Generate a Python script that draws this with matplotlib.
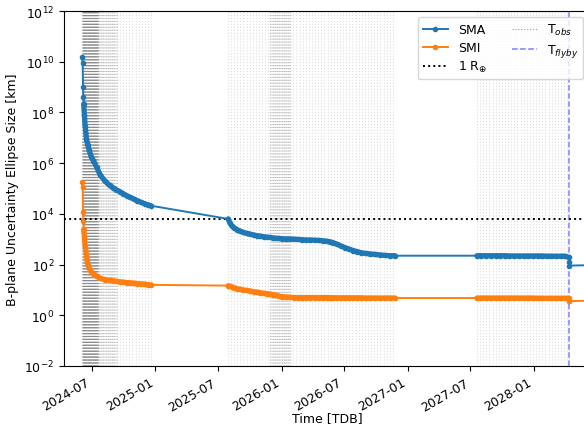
import matplotlib
matplotlib.use("Agg")
import matplotlib.pyplot as plt
import matplotlib.dates as mdates
from matplotlib.lines import Line2D
import numpy as np
import pandas as pd

plt.rcParams["font.size"] = 9

# ---- data ----
dates = [
    "2024-06-04", "2024-06-05", "2024-06-06", "2024-06-07", "2024-06-08",
    "2024-06-10", "2024-06-12", "2024-06-16", "2024-06-20", "2024-06-24",
    "2024-06-30", "2024-07-06", "2024-07-15", "2024-07-25", "2024-08-08",
    "2024-08-22", "2024-09-01", "2024-09-10", "2024-09-20", "2024-09-30",
    "2024-10-10", "2024-10-20", "2024-10-30", "2024-11-10", "2024-11-20",
    "2024-12-01", "2024-12-10", "2024-12-20",
    "2025-07-31", "2025-08-05", "2025-08-10", "2025-08-17", "2025-08-25",
    "2025-09-03", "2025-09-12", "2025-09-22", "2025-10-02", "2025-10-12",
    "2025-10-22", "2025-11-01", "2025-11-10", "2025-11-20", "2025-11-29",
    "2025-12-08", "2025-12-16", "2025-12-24", "2026-01-02", "2026-01-14",
    "2026-01-26", "2026-02-07", "2026-02-18", "2026-03-01", "2026-03-13",
    "2026-03-25", "2026-04-08", "2026-04-20", "2026-05-01", "2026-05-11",
    "2026-05-21", "2026-05-31", "2026-06-09", "2026-06-21", "2026-07-03",
    "2026-07-15", "2026-07-28", "2026-08-08", "2026-08-19", "2026-09-01",
    "2026-09-14", "2026-09-28", "2026-10-13", "2026-10-27", "2026-11-11",
    "2026-11-25",
    "2027-07-20", "2027-08-01", "2027-08-15", "2027-08-30", "2027-09-12",
    "2027-09-25", "2027-10-10", "2027-10-22", "2027-11-05", "2027-11-20",
    "2027-12-02", "2027-12-15", "2027-12-30", "2028-01-12", "2028-01-25",
    "2028-02-08", "2028-02-20", "2028-03-05", "2028-03-18", "2028-03-30",
    "2028-04-10", "2028-04-11", "2028-04-12",
    "2028-07-01",
]
log_sma = [
    10.17, 9.94, 8.99, 8.60, 8.33,
    7.90, 7.48, 6.95, 6.70, 6.50,
    6.25, 6.10, 5.85, 5.55, 5.30,
    5.12, 5.03, 4.95, 4.88, 4.80,
    4.72, 4.65, 4.59, 4.52, 4.46,
    4.40, 4.36, 4.32,
    3.80, 3.63, 3.53, 3.45, 3.38,
    3.32, 3.27, 3.23, 3.20, 3.17,
    3.14, 3.12, 3.10, 3.08, 3.07,
    3.05, 3.04, 3.03, 3.02, 3.01,
    3.01, 3.00, 2.99, 2.98, 2.97,
    2.97, 2.96, 2.95, 2.94, 2.92,
    2.90, 2.86, 2.81, 2.74, 2.67,
    2.61, 2.55, 2.51, 2.47, 2.44,
    2.42, 2.40, 2.38, 2.36, 2.35,
    2.35,
    2.35, 2.35, 2.35, 2.35, 2.35,
    2.35, 2.35, 2.34, 2.34, 2.34,
    2.34, 2.34, 2.34, 2.34, 2.34,
    2.33, 2.33, 2.33, 2.33, 2.33,
    2.29, 2.09, 1.96,
    1.98,
]
log_smi = [
    5.27, 5.07, 4.09, 3.73, 3.40,
    3.10, 2.75, 2.35, 1.98, 1.85,
    1.72, 1.63, 1.55, 1.46, 1.41,
    1.38, 1.36, 1.34, 1.32, 1.31,
    1.29, 1.28, 1.27, 1.25, 1.24,
    1.23, 1.21, 1.20,
    1.17, 1.14, 1.12, 1.09, 1.05,
    1.03, 1.00, 0.98, 0.96, 0.93,
    0.91, 0.89, 0.87, 0.85, 0.84,
    0.81, 0.79, 0.76, 0.74, 0.72,
    0.71, 0.70, 0.70, 0.70, 0.70,
    0.70, 0.70, 0.70, 0.70, 0.70,
    0.70, 0.69, 0.69, 0.69, 0.69,
    0.69, 0.69, 0.69, 0.69, 0.68,
    0.68, 0.68, 0.68, 0.68, 0.68,
    0.68,
    0.68, 0.68, 0.68, 0.68, 0.68,
    0.68, 0.68, 0.68, 0.68, 0.68,
    0.68, 0.68, 0.68, 0.67, 0.67,
    0.67, 0.67, 0.67, 0.67, 0.67,
    0.67, 0.56, 0.56,
    0.58,
]

# observation windows: start, end, cadence in days
obs_start = ["2024-06-03", "2024-07-19", "2024-09-12",
             "2025-07-30", "2025-11-28", "2026-01-26",
             "2027-07-20"]
obs_end = ["2024-07-19", "2024-09-12", "2024-12-20",
           "2025-11-28", "2026-01-26", "2026-11-25",
           "2028-04-10"]
obs_cadence = [0.5, 2, 9, 9, 2, 9, 9]

# dense-marker arcs (where observations pile up the markers)
arc_start = ["2024-06-08", "2025-07-31", "2027-07-20"]
arc_end = ["2024-12-20", "2026-11-25", "2028-04-10"]

flyby_date = "2028-04-11"
earth_radius_km = 6371.0

x_start = "2024-04-12"
x_end = "2028-06-10"

# ---- figure ----
fig = plt.figure(figsize=(5.84, 4.31), dpi=100)
ax = fig.add_axes([64 / 584, 1 - 367 / 431, (589.7 - 64) / 584, (367 - 12) / 431])

t = pd.to_datetime(dates)
sma = 10 ** np.array(log_sma)
smi = 10 ** np.array(log_smi)

# observation lines
for s, e, c in zip(obs_start, obs_end, obs_cadence):
    ts = pd.date_range(s, e, freq=pd.Timedelta(days=c))
    for tt in ts:
        ax.axvline(tt, color="gray", ls=":", lw=0.8, alpha=0.28, zorder=1)

l_sma, = ax.plot(t, sma, marker=".", ms=6, color="C0", lw=1.4, zorder=3)
l_smi, = ax.plot(t, smi, marker=".", ms=6, color="C1", lw=1.4, zorder=3)
for s, e in zip(arc_start, arc_end):
    m = (t >= pd.Timestamp(s)) & (t <= pd.Timestamp(e))
    ax.plot(t[m], sma[m], color="C0", lw=3.8, solid_capstyle="round", zorder=3)
    ax.plot(t[m], smi[m], color="C1", lw=3.8, solid_capstyle="round", zorder=3)

l_re = ax.axhline(earth_radius_km, color="k", ls=":", lw=1.4, zorder=2)
l_fb = ax.axvline(pd.Timestamp(flyby_date), color="b", ls="--", lw=1.1, alpha=0.5, zorder=2)
l_obs = Line2D([], [], color="gray", ls=":", lw=0.8, alpha=0.8)

ax.set_yscale("log")
ax.set_ylim(1e-2, 1e12)
ax.set_xlim(pd.Timestamp(x_start), pd.Timestamp(x_end))
ax.xaxis.set_major_locator(mdates.MonthLocator(bymonth=[1, 7]))
ax.xaxis.set_major_formatter(mdates.DateFormatter("%Y-%m"))
plt.setp(ax.get_xticklabels(), rotation=30, ha="right")
ax.set_xlabel("Time [TDB]")
ax.xaxis.set_label_coords(0.5, -0.128)
ax.set_ylabel("B-plane Uncertainty Ellipse Size [km]")

ax.legend([l_sma, l_smi, l_re, l_obs, l_fb],
          ["SMA", "SMI", "1 R$_{\\oplus}$", "T$_{obs}$", "T$_{flyby}$"],
          loc="upper right", ncol=2, fontsize=9, labelspacing=0.4)

fig.savefig("out.png", dpi=100)
